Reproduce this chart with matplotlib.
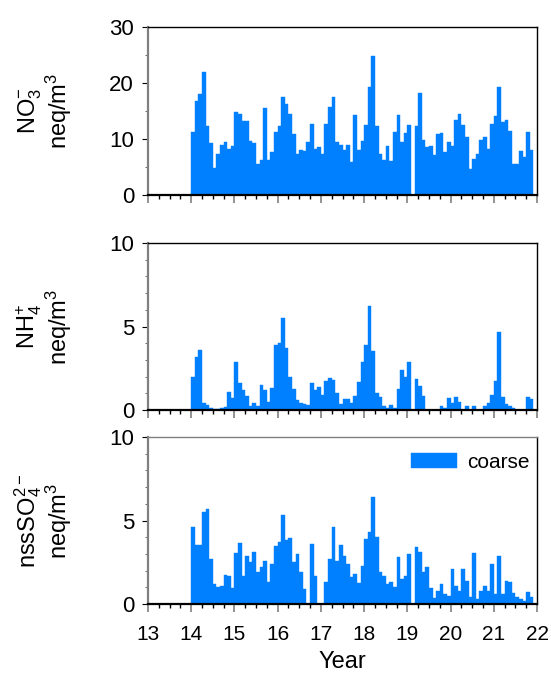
import numpy as np
import matplotlib
matplotlib.use("Agg")
import matplotlib.pyplot as plt
from matplotlib.ticker import MultipleLocator

plt.rcParams['font.family'] = ['Liberation Sans', 'DejaVu Sans']
plt.rcParams['mathtext.default'] = 'regular'

# monthly coarse-mode concentrations, Jan 2014 .. Nov 2021 (neq/m3)
no3 = [11.3, 16.7, 18.1, 22.0, 12.4, 9.2, 4.8, 7.4, 8.9, 9.5, 8.2, 8.8,
       14.9, 14.4, 13.3, 13.3, 9.7, 9.2, 5.5, 6.3, 15.6, 6.3, 7.7, 11.3,
       12.4, 17.5, 16.3, 14.4, 10.9, 7.4, 8.0, 7.9, 9.4, 12.6, 8.2, 8.6,
       7.3, 12.6, 15.8, 17.5, 9.4, 9.0, 8.0, 9.0, 5.9, 14.3, 8.0, 9.7,
       12.5, 19.2, 24.8, 12.4, 7.4, 6.3, 8.8, 6.1, 11.2, 14.2, 9.4, 11.0,
       12.5, 0.0, 12.4, 18.2, 9.9, 8.5, 8.8, 7.1, 10.9, 11.0, 7.7, 9.4,
       8.8, 13.4, 14.4, 12.5, 10.3, 4.6, 6.5, 7.4, 9.9, 10.3, 8.3, 12.7,
       14.1, 19.2, 13.1, 13.4, 11.5, 5.6, 5.6, 7.8, 6.8, 11.2, 8.0]

nh4 = [2.0, 3.2, 3.6, 0.4, 0.3, 0.14, 0.05, 0.05, 0.1, 0.2, 1.1, 0.7,
       2.9, 1.6, 1.2, 0.85, 0.25, 0.4, 0.25, 1.5, 1.2, 0.5, 1.3, 3.9,
       4.0, 5.5, 3.7, 2.0, 1.25, 0.6, 0.45, 0.35, 0.3, 1.6, 1.2, 1.4,
       0.9, 1.75, 1.9, 1.8, 1.0, 0.35, 0.65, 0.65, 0.4, 0.85, 1.65, 2.85,
       3.9, 6.2, 3.55, 1.0, 0.8, 0.25, 0.1, 0.3, 0.1, 1.25, 2.4, 2.0,
       2.85, 0.0, 1.85, 1.45, 0.85, 0.0, 0.0, 0.0, 0.0, 0.25, 0.15, 0.7,
       0.4, 0.8, 0.5, 0.0, 0.25, 0.0, 0.25, 0.0, 0.0, 0.25, 0.45, 0.9,
       1.75, 4.65, 0.8, 0.35, 0.25, 0.1, 0.0, 0.0, 0.0, 0.8, 0.65]

so4 = [4.6, 3.55, 3.55, 5.5, 5.7, 2.7, 1.2, 1.0, 1.05, 1.75, 1.7, 0.95,
       3.05, 3.65, 1.65, 2.85, 2.5, 3.1, 1.9, 2.2, 2.6, 1.3, 2.4, 3.5,
       3.7, 5.3, 3.85, 3.95, 2.5, 3.0, 1.9, 0.9, 0.0, 3.6, 1.65, 0.0,
       0.0, 1.3, 2.7, 4.6, 2.6, 3.55, 2.9, 2.4, 1.6, 1.8, 1.25, 2.25,
       3.9, 4.3, 6.4, 4.0, 1.9, 1.7, 1.2, 1.3, 1.0, 2.8, 1.5, 1.7,
       3.0, 0.0, 3.4, 3.1, 1.9, 2.2, 0.95, 0.35, 0.8, 1.2, 0.6, 0.5,
       2.1, 1.05, 0.8, 2.1, 1.4, 0.4, 3.05, 0.3, 0.8, 1.1, 0.8, 2.4,
       0.6, 2.9, 0.6, 1.35, 1.3, 0.65, 0.4, 0.3, 0.15, 0.7, 0.4]

years = 14 + np.arange(len(no3)) / 12.0

ylabels = ['NO$_3^{-}$\nneq/m$^3$', 'NH$_4^{+}$\nneq/m$^3$', 'nssSO$_4^{2-}$\nneq/m$^3$']
series = [no3, nh4, so4]
ylims = [30, 10, 10]
ymajor = [10, 5, 5]
yminor = [5, 1, 1]

fig = plt.figure(figsize=(5.51, 6.82), dpi=100)
boxes = [(0.2686, 0.7141, 0.7060, 0.2463),
         (0.2686, 0.3988, 0.7060, 0.2449),
         (0.2686, 0.1144, 0.7060, 0.2448)]

blue = '#0080ff'
for i, (box, vals) in enumerate(zip(boxes, series)):
    ax = fig.add_axes(box)
    ax.bar(years, vals, width=1 / 12.0, align='edge', color=blue,
           edgecolor=blue, linewidth=0.3, label='coarse')
    ax.set_xlim(13, 22)
    ax.set_ylim(0, ylims[i])
    ax.xaxis.set_major_locator(MultipleLocator(1))
    ax.xaxis.set_minor_locator(MultipleLocator(0.25))
    ax.yaxis.set_major_locator(MultipleLocator(ymajor[i]))
    ax.yaxis.set_minor_locator(MultipleLocator(yminor[i]))
    ax.tick_params(axis='x', which='major', direction='out', length=6, width=1.2,
                   color='#808080', labelsize=15, pad=9)
    ax.tick_params(axis='x', which='minor', direction='out', length=3, width=1, color='black')
    ax.tick_params(axis='y', which='major', direction='out', length=4, width=0.8,
                   color='black', labelsize=16, pad=6)
    ax.tick_params(axis='y', which='minor', direction='out', length=2, width=0.6, color='#555555')
    ax.spines['left'].set_color('#808080')
    ax.spines['left'].set_linewidth(1.6)
    ax.spines['bottom'].set_linewidth(1.6)
    ax.spines['top'].set_linewidth(1.0)
    ax.spines['right'].set_linewidth(1.0)
    if i == 2:
        ax.spines['top'].set_color('#808080')
        ax.set_xlabel('Year', fontsize=17, labelpad=5)
        ax.legend(loc='upper right', bbox_to_anchor=(1.0, 0.95), frameon=False,
                  fontsize=15, handlelength=2.2, handleheight=0.75,
                  handletextpad=0.5, borderaxespad=0.05, borderpad=0.3)
    else:
        ax.tick_params(axis='x', labelbottom=False)
    ax.set_ylabel(ylabels[i], fontsize=17, linespacing=1.0)
    ax.yaxis.set_label_coords(-0.19, 0.5)

fig.savefig('out.png', dpi=100)
